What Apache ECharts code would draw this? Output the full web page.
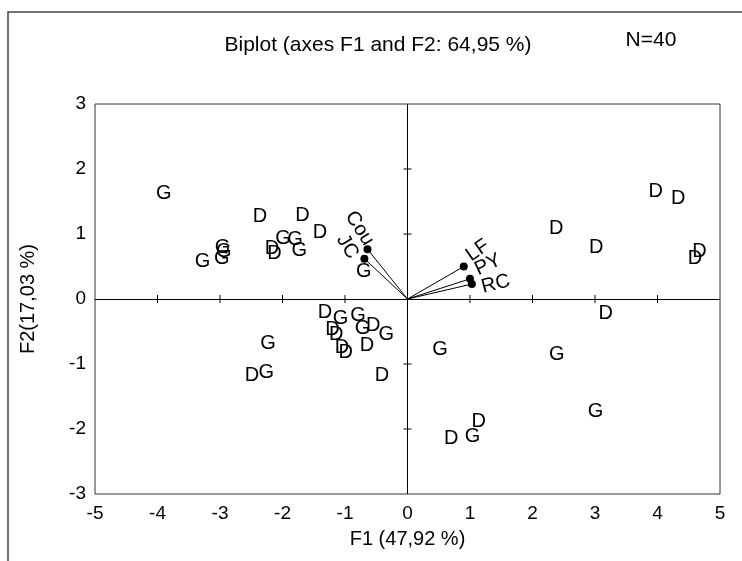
<!DOCTYPE html>
<html>
<head>
<meta charset="utf-8">
<script src="https://cdn.jsdelivr.net/npm/echarts@6/dist/echarts.min.js"></script>
<style>html,body{margin:0;padding:0;background:#fff}#c{width:742px;height:561px}</style>
</head>
<body>
<div id="c"></div>
<script>
// Observations (F1, F2, group label)
var obsX = [-3.90,-2.36,-1.68,-1.40,-1.99,-1.80,-1.73,-2.17,-2.13,-2.96,-2.94,-2.97,-3.28,-0.70,
            -1.32,-1.07,-0.79,-0.72,-0.55,-0.34,-1.20,-1.14,-1.05,-0.99,-0.65,-0.41,
            -2.23,-2.26,-2.49,
            0.52,2.39,3.01,1.14,0.70,1.04,
            3.97,4.33,2.38,3.02,4.67,4.60,3.17];
var obsY = [1.62,1.27,1.29,1.02,0.93,0.91,0.74,0.78,0.70,0.80,0.73,0.63,0.57,0.42,
            -0.21,-0.30,-0.25,-0.45,-0.40,-0.54,-0.47,-0.55,-0.74,-0.83,-0.72,-1.17,
            -0.68,-1.13,-1.17,
            -0.78,-0.85,-1.73,-1.89,-2.15,-2.12,
            1.65,1.55,1.09,0.79,0.73,0.63,-0.23];
var obsLabel = ['G','D','D','D','G','G','G','D','D','G','G','G','G','G',
                'D','G','G','G','D','G','D','D','D','D','D','D',
                'G','G','D',
                'G','G','G','D','D','G',
                'D','D','D','D','D','D','D'];
// Variables (loadings)
var varNames = ['Cou','JC','LF','PY','RC'];
var varX = [-0.64,-0.69,0.90,1.00,1.03];
var varY = [0.765,0.62,0.50,0.31,0.23];
// Axis ticks
var xTicks = [-4,-3,-2,-1,1,2,3,4];
var yTicks = [-2,-1,1,2];
var xRange = [-5,5];
var yRange = [-3,3];
var titleText = 'Biplot (axes F1 and F2: 64,95 %)';
var nText = 'N=40';
var xName = 'F1 (47,92 %)';
var yName = 'F2(17,03 %)';

// Styles for variable labels (rotation in degrees, screen pixel offset from dot)
var varLabelStyle = {
  Cou: {rotate: -58, offset: [-8, -21]},
  JC:  {rotate: -58, offset: [-17, -12]},
  LF:  {rotate: 35,  offset: [14, -16]},
  PY:  {rotate: 25,  offset: [18, -14]},
  RC:  {rotate: 15,  offset: [24, 0]}
};

var FONT = '"Liberation Sans", Arial, Helvetica, sans-serif';
var chart = echarts.init(document.getElementById('c'), null, {renderer: 'canvas'});

var series = [];
// observation letters
series.push({
  type: 'custom',
  silent: true,
  z: 5,
  data: obsX.map(function (x, i) { return [x, obsY[i], i]; }),
  renderItem: function (params, api) {
    var p = api.coord([api.value(0), api.value(1)]);
    return {
      type: 'text', x: p[0], y: p[1],
      style: {text: obsLabel[api.value(2)], fill: '#000', font: '20px ' + FONT, align: 'center', verticalAlign: 'middle'}
    };
  },
  markLine: {
    silent: true, symbol: 'none', animation: false,
    lineStyle: {color: '#000', width: 1, type: 'solid'},
    label: {show: false},
    data: [{xAxis: 0}, {yAxis: 0}]
  }
});

// variable vectors
series.push({
  type: 'custom',
  silent: true,
  z: 4,
  data: varX.map(function (x, i) { return [x, varY[i], i]; }),
  renderItem: function (params, api) {
    var o = api.coord([0, 0]);
    var p = api.coord([api.value(0), api.value(1)]);
    var name = varNames[api.value(2)];
    var st = varLabelStyle[name];
    return {
      type: 'group',
      children: [
        {type: 'line', shape: {x1: o[0], y1: o[1], x2: p[0], y2: p[1]}, style: {stroke: '#000', lineWidth: 1}},
        {type: 'circle', shape: {cx: p[0], cy: p[1], r: 4}, style: {fill: '#000'}},
        {type: 'text', x: p[0] + st.offset[0], y: p[1] + st.offset[1], rotation: st.rotate * Math.PI / 180,
         style: {text: name, fill: '#000', font: '20px ' + FONT, align: 'center', verticalAlign: 'middle'}}
      ]
    };
  }
});

// crossing ticks on zero lines
series.push({
  type: 'custom',
  silent: true,
  z: 3,
  data: xTicks.map(function (v) { return [v, 0, 0]; }).concat(yTicks.map(function (v) { return [0, v, 1]; })),
  renderItem: function (params, api) {
    var p = api.coord([api.value(0), api.value(1)]);
    var vertical = api.value(2) === 0;
    var shape = vertical ? {x1: p[0], y1: p[1] - 4, x2: p[0], y2: p[1] + 4}
                         : {x1: p[0] - 4, y1: p[1], x2: p[0] + 4, y2: p[1]};
    return {type: 'line', shape: shape, style: {stroke: '#000', lineWidth: 1}};
  }
});

var option = {
  animation: false,
  backgroundColor: '#fff',
  grid: {left: 95, top: 104, right: 22, bottom: 67, show: true, borderColor: '#333', borderWidth: 1, backgroundColor: 'transparent'},
  xAxis: {
    type: 'value', min: xRange[0], max: xRange[1], interval: 1,
    axisLine: {show: false}, axisTick: {show: false}, splitLine: {show: false},
    axisLabel: {color: '#000', fontSize: 19, fontFamily: FONT, margin: 10},
    name: xName, nameLocation: 'middle', nameGap: 35,
    nameTextStyle: {color: '#000', fontSize: 20, fontFamily: FONT}
  },
  yAxis: {
    type: 'value', min: yRange[0], max: yRange[1], interval: 1,
    axisLine: {show: false}, axisTick: {show: false}, splitLine: {show: false},
    axisLabel: {color: '#000', fontSize: 19, fontFamily: FONT, margin: 9},
    name: yName, nameLocation: 'middle', nameGap: 57, nameRotate: 90,
    nameTextStyle: {color: '#000', fontSize: 20, fontFamily: FONT}
  },
  graphic: [
    {type: 'polyline', shape: {points: [[8, 561], [8, 12], [742, 12]]}, style: {stroke: '#444', lineWidth: 1.5, fill: null}, silent: true},
    {type: 'text', x: 378, y: 45, style: {text: titleText, fill: '#000', font: '21px ' + FONT, textAlign: 'center', textVerticalAlign: 'middle'}},
    {type: 'text', x: 651, y: 40, style: {text: nText, fill: '#000', font: '21px ' + FONT, textAlign: 'center', textVerticalAlign: 'middle'}}
  ],
  series: series
};
chart.setOption(option);
</script>
</body>
</html>
